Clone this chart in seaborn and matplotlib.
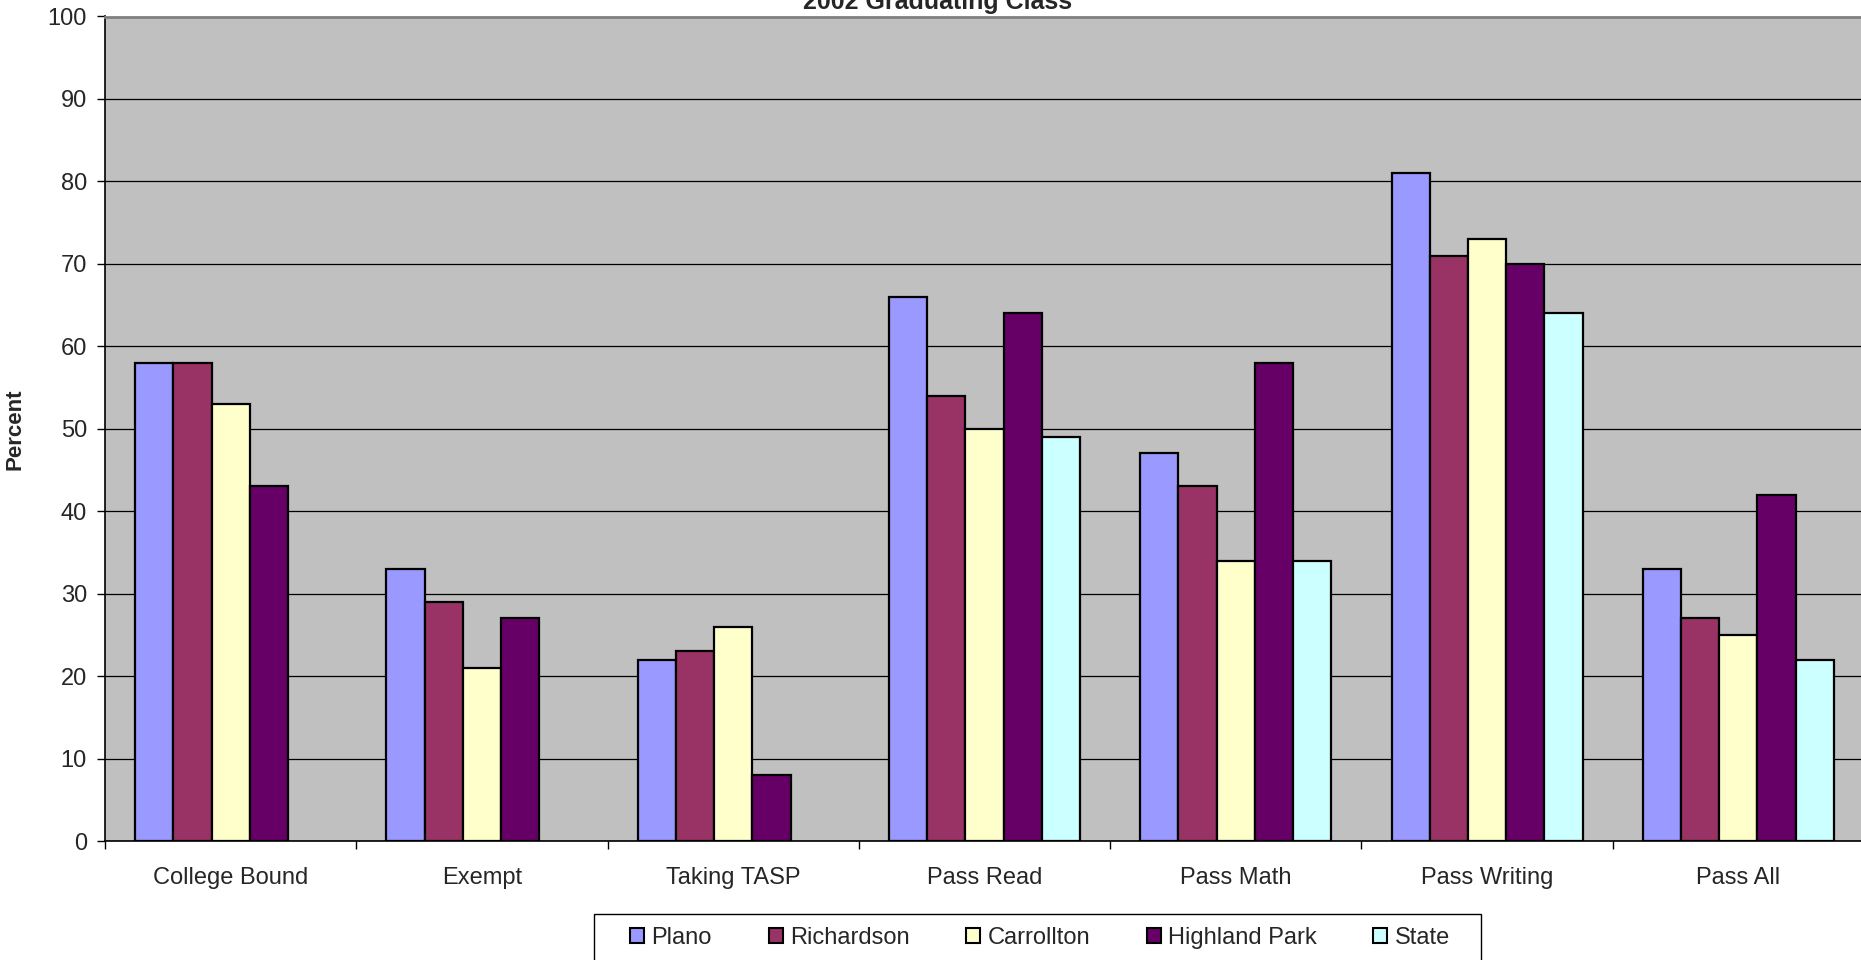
import pandas as pd
import numpy as np
import matplotlib
matplotlib.use("Agg")
import matplotlib.pyplot as plt
import seaborn as sns

categories = ["College Bound", "Exempt", "Taking TASP", "Pass Read", "Pass Math", "Pass Writing", "Pass All"]
districts = ["Plano", "Richardson", "Carrollton", "Highland Park", "State"]
plano = [58, 33, 22, 66, 47, 81, 33]
richardson = [58, 29, 23, 54, 43, 71, 27]
carrollton = [53, 21, 26, 50, 34, 73, 25]
highland_park = [43, 27, 8, 64, 58, 70, 42]
state = [np.nan, np.nan, np.nan, 49, 34, 64, 22]
colors = ["#9999FF", "#993366", "#FFFFCC", "#660066", "#CCFFFF"]

series = [plano, richardson, carrollton, highland_park, state]
rows = []
for name, vals in zip(districts, series):
    for cat, v in zip(categories, vals):
        rows.append({"Category": cat, "District": name, "Percent": v})
df = pd.DataFrame(rows).dropna()

sns.set_style("white")
plt.rcParams["font.family"] = ["Liberation Sans", "DejaVu Sans"]

W, H = 1861, 960
fig = plt.figure(figsize=(W / 100, H / 100), dpi=100)
ax = fig.add_axes([105 / W, 1 - 841 / H, 1759 / W, 824.5 / H])
ax.set_facecolor("#C0C0C0")

sns.barplot(data=df, x="Category", y="Percent", hue="District", order=categories,
            hue_order=districts, palette=colors, saturation=1, width=0.76, edgecolor="black",
            linewidth=1.6, errorbar=None, ax=ax, legend=False, zorder=3)

ax.set_ylim(0, 100)
ax.set_xlim(-0.5, len(categories) - 0.5)
ax.set_yticks(range(0, 101, 10))
ax.yaxis.grid(True, color="black", linewidth=0.9, zorder=0)
ax.set_axisbelow(True)

ax.set_xticks(np.arange(-0.5, len(categories), 1.0), minor=True)
ax.tick_params(axis="x", which="major", length=0, pad=19, labelsize=17)
ax.tick_params(axis="x", which="minor", length=6, width=1, color="black", direction="out")
ax.tick_params(axis="y", length=6, width=1, color="black", direction="out", pad=7, labelsize=17)
ax.xaxis.set_tick_params(bottom=True, which="both")
ax.yaxis.set_tick_params(left=True)

ax.set_xlabel("")
ax.set_ylabel("Percent", fontsize=16, fontweight="bold", labelpad=16)

for side in ["left", "bottom"]:
    ax.spines[side].set_color("black")
    ax.spines[side].set_linewidth(1.2)
ax.spines["top"].set_color("#808080")
ax.spines["top"].set_linewidth(2)
ax.spines["right"].set_visible(False)

fig.text(938 / W, 1 - 2 / H, "2002 Graduating Class", ha="center", va="center",
         fontsize=18, fontweight="bold")

# legend box drawn separately so the padding matches the reference
box = plt.Rectangle((594 / W, 1 - 962 / H), 887 / W, 48 / H, transform=fig.transFigure,
                    facecolor="white", edgecolor="black", linewidth=1.0)
fig.patches.append(box)

handles = [plt.Rectangle((0, 0), 1, 1, facecolor=c, edgecolor="black", linewidth=1.5) for c in colors]
leg = fig.legend(handles, districts, loc="center", bbox_to_anchor=(1040 / W, 1 - 938 / H),
                 ncol=5, fontsize=17, frameon=False,
                 handlelength=0.6, handleheight=0.6, handletextpad=0.3, columnspacing=2.4,
                 borderpad=0.0)

fig.savefig("out.png", dpi=100, facecolor="white")
